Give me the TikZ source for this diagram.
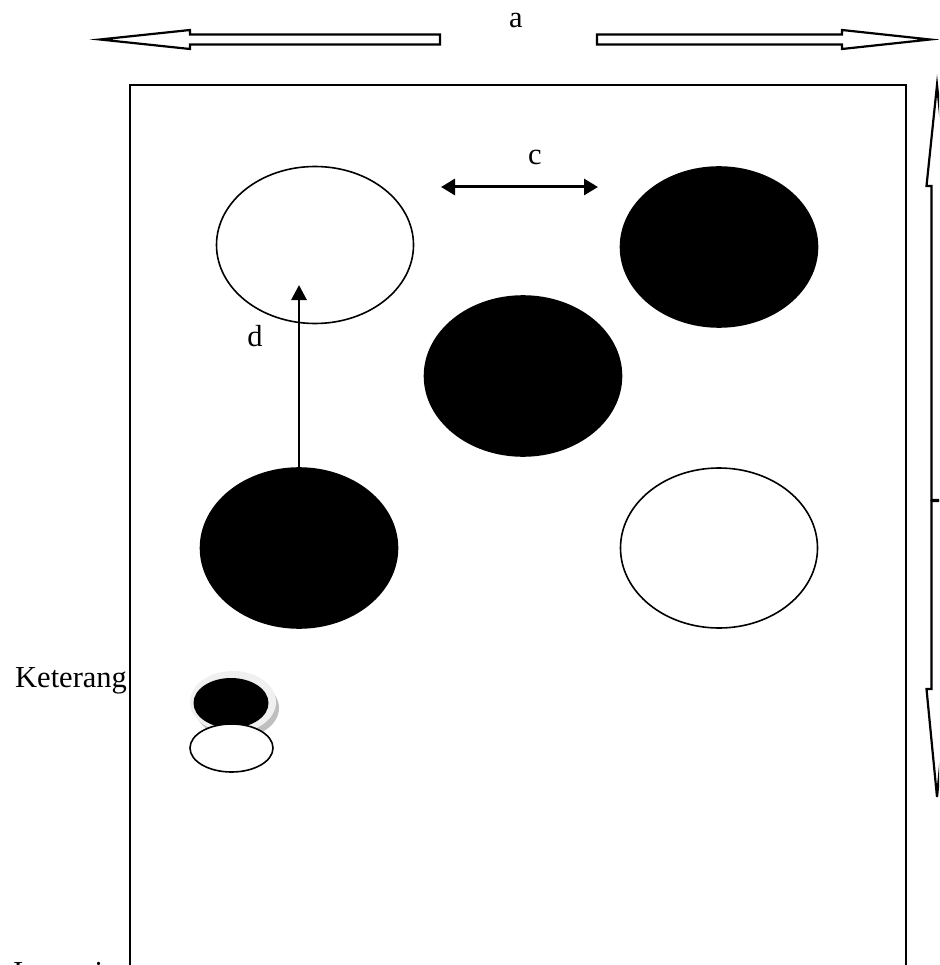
\documentclass[tikz,border=0pt]{standalone}
\usepackage{fontspec}
\setmainfont{Liberation Serif}
\usetikzlibrary{shapes.geometric,arrows.meta}
\begin{document}
\begin{tikzpicture}[x=1pt,y=-1pt,
 lbl/.style={font=\fontsize{30.5}{36}\selectfont, inner sep=0pt},
 blk/.style={ellipse, draw, line width=1.6pt, fill=black, minimum width=197pt, minimum height=160pt, inner sep=0pt},
 wht/.style={blk, fill=white},
 blockarrow/.style={draw, line width=2.2pt, fill=white, line join=miter},
 dimone/.style={line width=2.8pt, -{Triangle[length=15pt,width=15pt]}},
 dimtwo/.style={line width=3pt, {Triangle[length=14pt,width=16pt]}-{Triangle[length=14pt,width=16pt]}}]
\clip (0,0) rectangle (939,965);
\fill[white] (0,0) rectangle (939,965);
% frame
\draw[line width=2.3pt] (130,1000) -- (130,85) -- (906,85) -- (906,1000);
% top block arrows
\draw[blockarrow] (440,34.5) -- (190,34.5) -- (190,30) -- (100,39.5) -- (190,49) -- (190,44.5) -- (440,44.5) -- cycle;
\draw[blockarrow] (597,34.5) -- (842,34.5) -- (842,30) -- (930,39.5) -- (842,49) -- (842,44.5) -- (597,44.5) -- cycle;
\node[lbl] (la) at (516,20) {a};
% right vertical block arrows
\draw[blockarrow] (931.5,500) -- (931.5,186) -- (926.5,186) -- (937,85) -- (947.5,186) -- (942.5,186) -- (942.5,500) -- cycle;
\draw[blockarrow] (931.5,501) -- (931.5,689) -- (926.5,689) -- (937,797) -- (947.5,689) -- (942.5,689) -- (942.5,501) -- cycle;
% ellipses
\node[wht, minimum height=157pt] (e1) at (315,245) {};
\node[blk] (e2) at (719,247) {};
\node[blk] (e3) at (523,376) {};
\node[blk] (e4) at (299,548) {};
\node[wht] (e5) at (719,548) {};
% c arrow
\coordinate (cl) at (441,187);
\coordinate (cr) at (598,187);
\draw[dimtwo] (cl) -- (cr);
\node[lbl] (lc) at (535,157) {c};
% d arrow
\coordinate (dtip) at (299,285);
\draw[dimone] (e4.north) -- (dtip);
\node[lbl] (ld) at (255,336) {d};
% legend
\node[lbl, anchor=base west] (ket) at (15,687) {Keterang};
\fill[gray!50] (237,708) ellipse [x radius=42pt, y radius=30pt];
\fill[gray!12] (233,702) ellipse [x radius=43pt, y radius=31pt];
\node[ellipse, fill=black, minimum width=75pt, minimum height=50pt, inner sep=0pt] (k1) at (231,703) {};
\node[ellipse, draw, line width=1.6pt, fill=white, minimum width=83pt, minimum height=48pt, inner sep=0pt] (k2) at (231.5,748) {};
% bottom clipped text (cut off by the lower edge, as in the reference)
\node[lbl, anchor=base west] (bot) at (13,982) {Inovasi};
\end{tikzpicture}
\end{document}
